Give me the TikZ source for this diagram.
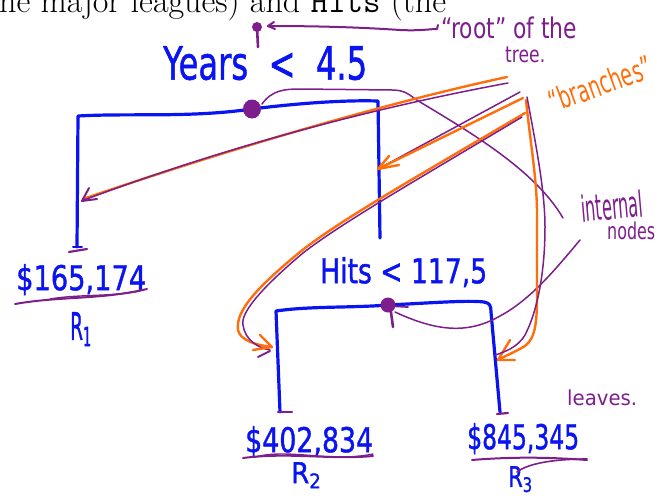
\documentclass[tikz,border=0pt]{standalone}
\usepackage{fontspec}
\setsansfont{DejaVu Sans}
\newfontfamily\hwbold{DejaVu Sans}[FakeBold=1.3]
\usepackage{graphicx}
\definecolor{hwblue}{RGB}{10,20,240}
\definecolor{hwpurple}{RGB}{125,30,140}
\definecolor{hworange}{RGB}{255,110,10}
\newcommand{\hw}[3]{\resizebox*{#1pt}{#2pt}{\sffamily #3}}
\newcommand{\hwb}[3]{\resizebox*{#1pt}{#2pt}{\hwbold #3}}
\tikzset{
  blueline/.style={draw=hwblue, line width=3.2pt, line cap=round, line join=round},
  purp/.style={draw=hwpurple, line width=1.5pt, line cap=round, line join=round},
  orng/.style={draw=hworange, line width=2.4pt, line cap=round, line join=round},
  hwtext/.style={inner sep=0pt, anchor=north west},
}
\begin{document}
\begin{tikzpicture}[x=1pt,y=-1pt]
\useasboundingbox (0,0) rectangle (659,498);
\clip (0,0) rectangle (659,498);

% leading printed text (cut at top)
\node[anchor=base west, inner sep=0pt, font=\fontsize{34}{40}\selectfont] (lead) at (-13,12.7) {the major leagues) and \texttt{Hits} (the};

% ---------- blue tree ----------
\draw[blueline] (77,247) -- (78,116) .. controls (130,113) and (190,118) .. (252,109)
  .. controls (300,103) and (345,100) .. (378,101) -- (380,238);
\draw[blueline, line width=2pt] (73,247) -- (82,247);
\draw[blueline] (280,412) -- (276,311) .. controls (310,306) and (350,308) .. (388,305)
  .. controls (430,303) and (468,300) .. (484,302) .. controls (490,303) and (491,306) .. (491,312) -- (500,412);

% root split dot and "root" pointer
\fill[hwpurple] (252,109) ellipse (9 and 9.5);
\fill[hwpurple] (257,27) circle (5);
\draw[purp, line width=2.6pt] (257,27) -- (258,47);
\draw[purp, line width=2pt] (268,26) .. controls (330,26) and (370,28) .. (400,30) .. controls (420,31) and (430,29) .. (437,29) -- (438,25);
\draw[purp, line width=2pt] (274,22) -- (268,26) -- (275,29);

% Hits split dot
\fill[hwpurple] (388,305) circle (7.5);
\draw[purp, line width=2.6pt] (390,305) -- (393,327);
\draw[purp, line width=1.8pt] (390,306) -- (408,307);

% ticks above leaves
\draw[purp, line width=2.2pt] (69,252) -- (87,249);
\draw[purp, line width=2.2pt] (278,412) -- (292,412);
\draw[purp, line width=2.2pt] (497,414) -- (508,413);

% ---------- labels (blue) ----------
\node[hwtext, text=hwblue] (years) at (163,46) {\hwb{204}{34}{Years~~<~~4.5}};
\node[hwtext, text=hwblue] (hits) at (320,257) {\hwb{167}{30}{Hits~<~117,5}};
\node[hwtext, text=hwblue] (v1) at (16,264) {\hwb{130}{31}{\$165,174}};
\node[hwtext, text=hwblue] (r1) at (70,312) {\hwb{22}{34}{R\textsubscript{1}}};
\node[hwtext, text=hwblue] (v2) at (245,426) {\hwb{128}{31}{\$402,834}};
\node[hwtext, text=hwblue] (r2) at (291,462) {\hwb{31}{26}{R\textsubscript{2}}};
\node[hwtext, text=hwblue] (v3) at (467,423) {\hwb{112}{31}{\$845,345}};
\node[hwtext, text=hwblue] (r3) at (508,466) {\hwb{25}{26}{R\textsubscript{3}}};

% underlines
\draw[purp, line width=2pt] (15,304) .. controls (60,296) and (100,300) .. (147,289);
\draw[purp, line width=1.4pt] (50,299) .. controls (80,294) and (110,297) .. (140,291);
\draw[purp, line width=2pt] (243,458) .. controls (290,452) and (330,460) .. (373,456);
\draw[purp, line width=1.4pt] (255,457) .. controls (290,448) and (330,463) .. (373,454);
\draw[purp, line width=2pt] (472,460) .. controls (520,456) and (560,458) .. (587,460);
\draw[purp, line width=1.6pt] (517,472) .. controls (530,462) and (560,459) .. (587,459);

% ---------- annotations (purple / orange) ----------
\node[hwtext, text=hwpurple] (roottxt) at (441,17) {\hw{136}{22}{“root” of the}};
\node[hwtext, text=hwpurple] (treetxt) at (505,47) {\hw{40}{16}{tree.}};
\node[hwtext, text=hwpurple, rotate=5, anchor=center] (inttxt) at (612,206) {\hw{62}{28}{internal}};
\node[hwtext, text=hwpurple] (nodestxt) at (607,222) {\hw{48}{18}{nodes}};
\node[hwtext, text=hwpurple] (leavestxt) at (567,390) {\hw{70}{16}{leaves.}};
\node[inner sep=0pt, text=hworange, rotate=20] (brtxt) at (600,84) {\hw{108}{24}{“branches”}};

% internal nodes pointer to root dot
\draw[purp] (262,104) .. controls (272,90) and (285,89) .. (300,89) -- (392,90)
  .. controls (402,90) and (408,93) .. (415,99) .. controls (470,132) and (535,170) .. (563,218);
% internal nodes pointer to Hits dot
\draw[purp] (580,240) .. controls (555,270) and (530,300) .. (500,316) .. controls (470,333) and (440,333) .. (395,312);

% branch to R1 side
\draw[orng] (507,77) .. controls (400,100) and (250,142) .. (83,199);
\draw[purp] (508,83) .. controls (400,103) and (250,138) .. (84,200);
\draw[purp, line width=2pt] (89,188) -- (82,201) -- (97,199);

% branch to right side of root
\draw[purp] (520,92) -- (380,168);
\draw[orng] (523,98) -- (378,169);
\draw[orng] (389,156) -- (378,169) -- (399,165);

% branch to R2 side
\draw[orng] (525,113) .. controls (420,175) and (340,220) .. (300,252)
  .. controls (260,285) and (235,310) .. (238,330) .. controls (240,340) and (255,345) .. (272,347);
\draw[purp] (522,117) .. controls (420,178) and (343,222) .. (303,253)
  .. controls (265,285) and (240,312) .. (243,325) .. controls (245,340) and (258,348) .. (270,350);
\draw[orng] (260,335) -- (272,347) -- (253,350);
\draw[purp, line width=2pt] (258,357) -- (270,351);

% branch to R3 side
\draw[orng] (526,100) .. controls (530,140) and (537,180) .. (537,213) -- (537,293)
  .. controls (537,320) and (536,338) .. (525,346) .. controls (515,352) and (505,356) .. (498,360);
\draw[orng] (510,340) -- (498,360) -- (515,360);
\draw[purp] (527,97) .. controls (535,140) and (545,190) .. (545,227)
  .. controls (545,270) and (538,310) .. (525,335) .. controls (518,347) and (505,352) .. (495,355);
\end{tikzpicture}
\end{document}
